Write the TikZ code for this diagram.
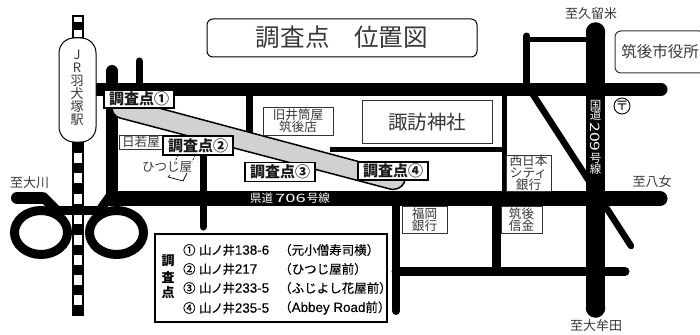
\documentclass[tikz,border=0pt]{standalone}
\usepackage{fontspec}
\setmainfont{Noto Sans CJK JP}
\newfontfamily\latinf[FakeBold=0.25]{Liberation Sans}
\newfontfamily\medf[FakeBold=0.25]{Noto Sans CJK JP}
\newcommand{\fs}[1]{\fontsize{#1}{#1}\selectfont}
\newcommand{\lat}[1]{{\latinf\fs{13.4}#1}}
\newcommand{\legendrow}[2]{\makebox[16pt][l]{#1}山\kern-0.6ptノ\kern-0.6pt井\lat{#2}}
\definecolor{txt}{gray}{0.22}
\definecolor{band}{gray}{0.82}
\tikzset{
  x=1pt,y=-1pt,
  road/.style={line width=#1,black},
  roadr/.style={line width=#1,black,line cap=round},
  tag/.style={draw=black,line width=1.5pt,fill=white,inner sep=0pt,font=\fs{15}\bfseries,text=black!90},
  shop/.style={draw=black!80,line width=0.9pt,fill=white,inner sep=0pt,align=center,text=txt,font=\fs{12.6},execute at begin node={\baselineskip=12pt}},
  dest/.style={inner sep=0pt,text=txt,font=\fs{13}},
  tiny/.style={inner sep=0pt,text=black,font=\medf\fs{12.3}},
  whitetxt/.style={inner sep=0pt,text=white,font=\fs{11.5}}
}
\begin{document}
\begin{tikzpicture}
\path[use as bounding box] (0,0) rectangle (700,334);
% railway
\fill[black] (72,15) rectangle (84,316);
\foreach \a/\b in {17/22,30/37,153/163,173/183,194/204,215/224,235/245,255/265,275/285,295/305}
  \fill[white] (74,\a) rectangle (82,\b);
% left junction and loops
\draw[roadr=12pt] (17,198) -- (42,198);
\draw[road=10pt] (42,196) -- (58,212);
\draw[road=9pt] (55,210.5) -- (105,210.5);
\draw[road=9pt] (41,232.5) ellipse (26.5 and 22);
\draw[road=9pt] (116.5,232.5) ellipse (27 and 22);
\draw[road=9pt] (110,196) -- (100,210);
% upper roads
\draw[roadr=13pt] (92,89.5) -- (661,89.5);
\draw[road=12pt] (112,71) -- (112,198);
\fill[black] (112,71) circle (6);
\draw[roadr=7pt] (139,61) -- (139,88);
% road 706
\draw[road=15pt] (106,198.5) -- (660,198.5);
\fill[black] (660,198.5) circle (7.5);
\draw[roadr=7pt] (203,150) -- (203,227);
\draw[road=6.5pt] (249.5,90) -- (249.5,145);
\draw[road=5pt] (330,149.5) -- (504,149.5);
\draw[road=5pt] (504,90) -- (504,195);
% east roads
\draw[road=7pt] (526.5,36) -- (526.5,90);
\fill[black] (526.5,36) circle (3.5);
\draw[road=5pt] (526.5,40) -- (595,40);
\draw[road=6.5pt] (530,90) -- (600,198);
\draw[roadr=6.5pt] (600,198) -- (631,246);
\draw[road=19.5pt] (595.5,32) -- (595.5,308);
\fill[black] (595.5,32) circle (9.75);
\fill[black] (595.5,308) circle (9.75);
\draw[roadr=9pt] (396,271.5) -- (625,271.5);
\draw[road=9pt] (496.5,200) -- (496.5,272);
\draw[roadr=8pt] (396,200) -- (396,311);
% surveyed street
\draw[fill=band,draw=black,line width=1.5pt] (112,107) -- (155,107) -- (405,174) -- (405,178)
  .. controls (405,185) and (400,189) .. (393,189.5) -- (390,189) -- (120,118)
  .. controls (115,116.5) and (112,113) .. (112,107) -- cycle;
% station
\node[draw=black,line width=1pt,fill=white,rounded corners=15pt,minimum width=37pt,minimum height=104pt,inner sep=0pt] (station) at (77.5,90) {};
\foreach \c/\yy/\n in {J/55/a,R/67.5/b,羽/81/c,犬/94/d,塚/107/e,駅/120/f}
  \node[inner sep=0pt,text=txt,font=\fs{13}] (st\n) at (77,\yy) {\c};
% title
\node[draw=black,line width=1pt,rounded corners=6pt,minimum width=270pt,minimum height=38pt] (titlebox) at (342,38) {};
\node[inner sep=0pt,text=txt,font=\fs{24.6}] (title) at (342,37) {調査点　位置図};
% buildings
\node[shop,minimum width=70pt,minimum height=28pt] (izutsu) at (298,121) {旧井筒屋\\筑後店};
\node[draw=black!80,line width=1pt,fill=white,minimum width=130pt,minimum height=42pt,inner sep=0pt,text=txt,font=\fs{19.5}] (suwa) at (427,122) {諏訪神社};
\node[shop,minimum width=44pt,minimum height=14pt] (wakaya) at (141,142) {日若屋};
\node[shop,minimum width=45pt,minimum height=36pt] (nishi) at (528.5,173) {西日本\\シティ\\銀行};
\node[shop,minimum width=45pt,minimum height=27pt] (fukuoka) at (424.5,219.5) {福岡\\銀行};
\node[shop,minimum width=41pt,minimum height=27pt] (shinkin) at (521.5,219.5) {筑後\\信金};
\node[draw=black!80,line width=1pt,rounded corners=6pt,fill=white,minimum width=90pt,minimum height=42pt] (city) at (660,52) {};
\node[inner sep=0pt,text=txt,font=\fs{15.5}] (cityt) at (660,52) {筑後市役所};
% hitsujiya
\node[inner sep=0pt,text=txt,font=\fs{12.5}] (hitsuji) at (167,167) {ひつじ屋};
\draw[black,line width=0.7pt] (170,175) -- (168,177) -- (183,181) -- (187,173);
\coordinate (h1) at (178,155); \coordinate (h2) at (175,162);
\coordinate (h3) at (195,155); \coordinate (h4) at (192,162);
\draw[black,line width=0.7pt,dashed,dash pattern=on 2pt off 1.5pt] (h1) -- (h2) (h3) -- (h4);
% survey tags
\node[tag,minimum width=70pt,minimum height=18pt] (p1) at (139,99) {調査点①};
\node[tag,minimum width=70pt,minimum height=19pt] (p2) at (198,145.5) {調査点②};
\node[tag,minimum width=70pt,minimum height=19pt] (p3) at (280,172) {調査点③};
\node[tag,minimum width=70pt,minimum height=18pt] (p4) at (393,171) {調査点④};
% road labels
\node[whitetxt,font=\fs{11.5}] (r706) at (290,198) {県道\kern2pt\scalebox{1.6}[1]{706}\kern1pt号線};
\foreach \c/\yy/\n in {国/105/a,道/115.5/b,号/158/c,線/169.5/d}
  \node[whitetxt] (n\n) at (595.5,\yy) {\c};
\node[whitetxt,rotate=-90,font=\fs{13}] (n209) at (595.5,137) {\scalebox{1.35}[1]{209}};
% destinations
\node[dest] (d1) at (591,14) {至久留米};
\node[dest] (d2) at (29.5,183) {至大川};
\node[dest] (d3) at (652,182) {至八女};
\node[dest] (d4) at (596,326) {至大牟田};
% post office
\node[draw=black,line width=0.9pt,circle,minimum size=16pt,inner sep=0pt,font=\fs{13},text=black] (post) at (622,106) {〒};
% legend
\node[draw=black,line width=1.5pt,fill=white,minimum width=232pt,minimum height=88pt] (legend) at (271,278) {};
\foreach \c/\yy/\n in {調/261/a,査/277/b,点/293/c}
  \node[tiny,font=\fs{13}\bfseries] (lg\n) at (168,\yy) {\c};
\node[tiny,anchor=west] (laa) at (183,250) {\legendrow{①}{138-6}};
\node[tiny,anchor=west] (lab) at (183,269) {\legendrow{②}{217}};
\node[tiny,anchor=west] (lac) at (183,288) {\legendrow{③}{233-5}};
\node[tiny,anchor=west] (lad) at (183,308) {\legendrow{④}{235-5}};
\node[tiny,anchor=west,font=\medf\fs{12.5}] (lba) at (279,250) {（元小僧寿司横）};
\node[tiny,anchor=west,font=\medf\fs{12.5}] (lbb) at (279,269) {（ひつじ屋前）};
\node[tiny,anchor=west,font=\medf\fs{12.5}] (lbc) at (279,288) {（ふじよし花屋前）};
\node[tiny,anchor=west,font=\medf\fs{12.5}] (lbd) at (279,308) {（\lat{Abbey Road}前）};
\end{tikzpicture}
\end{document}
